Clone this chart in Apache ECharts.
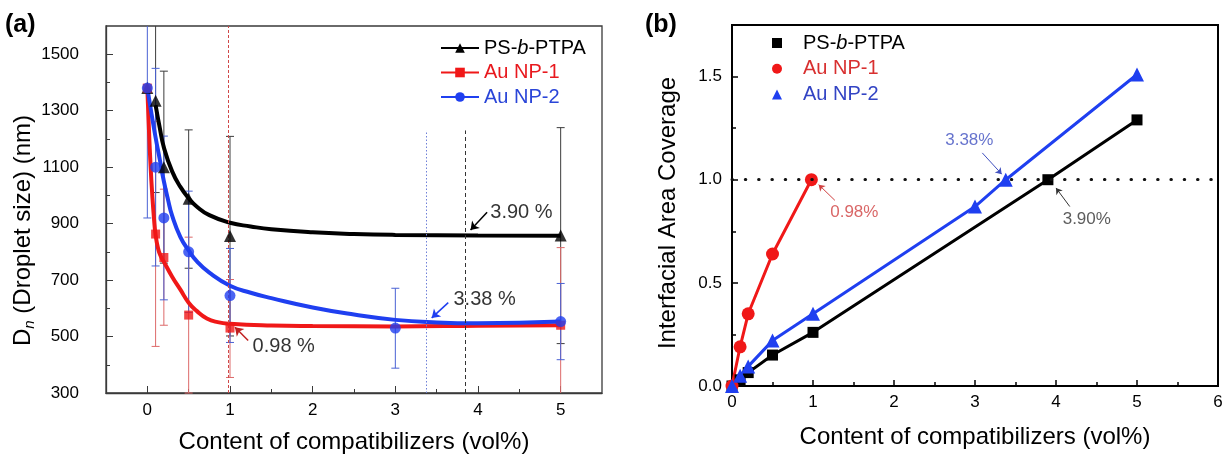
<!DOCTYPE html>
<html><head><meta charset="utf-8">
<script src="https://cdn.jsdelivr.net/npm/echarts@6/dist/echarts.min.js"></script>
<style>html,body{margin:0;padding:0;background:#fff}#c{width:1226px;height:458px}</style>
</head><body><div id="c"></div>
<script>
// ---------- Panel (a): droplet size ----------
const aXTicks = [0, 1, 2, 3, 4, 5];
const aXMinor = [0.5, 1.5, 2.5, 3.5, 4.5];
const aYTicks = [300, 500, 700, 900, 1100, 1300, 1500];
const aYMinor = [400, 600, 800, 1000, 1200, 1400];

const psX  = [0, 0.1, 0.2, 0.5, 1, 5];
const psY  = [1380, 1335, 1100, 988, 856, 858];
const psLo = [null, 1010, 760, 742, 502, 475];
const psHi = [null, 1660, 1440, 1232, 1209, 1240];

const np1X  = [0, 0.1, 0.2, 0.5, 1, 5];
const np1Y  = [1380, 863, 780, 576, 530, 540];
const np1Lo = [null, 465, 540, 300, 355, 265];
const np1Hi = [null, 1262, 1022, 852, 702, 815];

const np2X  = [0, 0.1, 0.2, 0.5, 1, 3, 5];
const np2Y  = [1380, 1100, 920, 800, 645, 530, 553];
const np2Lo = [920, 750, 630, 585, 479, 388, 418];
const np2Hi = [1840, 1450, 1210, 1015, 812, 671, 688];

// fitted curves
const psFitX  = [0.1, 0.15, 0.2, 0.3, 0.4, 0.5, 0.6, 0.75, 1, 1.25, 1.5, 2, 2.5, 3, 4, 5];
const psFitY  = [1320, 1240, 1170, 1085, 1030, 990, 960, 930, 903, 890, 880, 869, 863, 860, 858, 857];
const np1FitX = [0, 0.02, 0.04, 0.06, 0.08, 0.1, 0.13, 0.16, 0.2, 0.3, 0.4, 0.5, 0.6, 0.72, 0.85, 1, 1.5, 2, 3, 4, 5];
const np1FitY = [1380, 1230, 1100, 1000, 920, 860, 812, 786, 765, 712, 666, 620, 590, 564, 551, 545, 539, 537, 536, 538, 540];
const np2FitX = [0, 0.05, 0.1, 0.15, 0.2, 0.25, 0.3, 0.4, 0.5, 0.6, 0.75, 1, 1.25, 1.5, 2, 2.5, 3, 3.5, 4, 5];
const np2FitY = [1380, 1290, 1205, 1128, 1050, 985, 928, 852, 805, 766, 726, 680, 655, 636, 603, 578, 559, 550, 547, 553];

// vertical reference lines: x, top value
const aRefX   = [0.98, 3.38, 3.85];
const aRefTop = [1600, 1230, 1230];

// annotations
const aNotes    = ['0.98 %', '3.38 %', '3.90 %'];
const aNoteX    = [1.65, 4.08, 4.525];
const aNoteY    = [463, 633, 939];
const aArrFromX = [1.22, 3.64, 4.11];
const aArrFromY = [486, 620, 940];
const aArrToX   = [1.06, 3.44, 3.91];
const aArrToY   = [533, 566, 877];

// ---------- Panel (b): interfacial area coverage ----------
const bYTicks = [0, 0.5, 1.0, 1.5];
const bYMinor = [0.25, 0.75, 1.25];
const bPsX  = [0, 0.1, 0.2, 0.5, 1, 3.9, 5];
const bPsY  = [0, 0.03, 0.065, 0.15, 0.26, 1.0, 1.29];
const bNp1X = [0, 0.1, 0.2, 0.5, 0.98];
const bNp1Y = [0, 0.19, 0.35, 0.64, 1.0];
const bNp2X = [0, 0.1, 0.2, 0.5, 1, 3, 3.38, 5];
const bNp2Y = [0, 0.05, 0.095, 0.22, 0.35, 0.87, 1.0, 1.51];

const bNotes    = ['0.98%', '3.38%', '3.90%'];
const bNoteX    = [1.51, 2.93, 4.38];
const bNoteY    = [0.84, 1.19, 0.806];
const bArrFromX = [1.27, 3.09, 4.17];
const bArrFromY = [0.90, 1.13, 0.87];
const bArrToX   = [1.07, 3.33, 4.0];
const bArrToY   = [0.976, 1.027, 0.96];

// ---------- helpers ----------
const FONT = '"Liberation Sans", Arial, Helvetica, sans-serif';
const BLACK = '#000000', RED = '#f01818', BLUE = '#1f3ff0';
const zip = (xs, ys) => xs.map((x, i) => [x, ys[i]]);
const errData = (xs, lo, hi) => xs.map((x, i) => [x, lo[i], hi[i]]).filter(d => d[1] != null);
const A_YMIN = 300, A_YMAX = 1600;

function errSeries(data, color) {
  return {
    type: 'custom', xAxisIndex: 0, yAxisIndex: 0, silent: true, z: 3,
    data: data, encode: { x: 0, y: [1, 2] },
    renderItem: function (params, api) {
      const x = api.value(0), lo = api.value(1), hi = api.value(2);
      const l = Math.max(lo, A_YMIN), h = Math.min(hi, A_YMAX);
      const p1 = api.coord([x, l]), p2 = api.coord([x, h]);
      const st = { stroke: color, lineWidth: 1 };
      const ch = [{ type: 'line', shape: { x1: p1[0], y1: p1[1], x2: p2[0], y2: p2[1] }, style: st }];
      const cw = 4;
      if (lo >= A_YMIN) ch.push({ type: 'line', shape: { x1: p1[0] - cw, y1: p1[1], x2: p1[0] + cw, y2: p1[1] }, style: st });
      if (hi <= A_YMAX) ch.push({ type: 'line', shape: { x1: p2[0] - cw, y1: p2[1], x2: p2[0] + cw, y2: p2[1] }, style: st });
      return { type: 'group', children: ch };
    }
  };
}

function arrowLines(fx, fy, tx, ty, colors) {
  return fx.map((x, i) => [
    { coord: [x, fy[i]], lineStyle: { color: colors[i] } },
    { coord: [tx[i], ty[i]] }
  ]);
}

const refColors = ['#d04848', '#6f80d8', '#333333'];
const refTypes = [[3, 2], [1.5, 2], [4, 3]];

const legendRich = {
  sp: { width: 16, fontSize: 20, fontFamily: FONT },
  n: { fontSize: 20, color: '#000', fontFamily: FONT },
  i: { fontSize: 20, color: '#000', fontStyle: 'italic', fontFamily: FONT },
  r: { fontSize: 20, color: '#e8191e', fontFamily: FONT },
  b: { fontSize: 20, color: '#2a45d8', fontFamily: FONT },
  r2: { fontSize: 20, color: '#d83030', fontFamily: FONT },
  b2: { fontSize: 20, color: '#3344c4', fontFamily: FONT }
};

const option = {
  animation: false,
  backgroundColor: '#ffffff',
  textStyle: { fontFamily: FONT },
  grid: [
    { left: 106, top: 26, width: 496, height: 367, show: true, borderColor: '#3a3a3a', borderWidth: 1.3, backgroundColor: 'transparent', outerBoundsMode: 'none', containLabel: false },
    { left: 732, top: 25, width: 486, height: 361, show: true, borderColor: '#000', borderWidth: 2, backgroundColor: 'transparent', outerBoundsMode: 'none', containLabel: false }
  ],
  xAxis: [
    { gridIndex: 0, type: 'value', min: -0.5, max: 5.5, position: 'bottom',
      name: 'Content of compatibilizers (vol%)', nameLocation: 'middle', nameGap: 37,
      nameTextStyle: { fontSize: 24, color: '#000', fontFamily: FONT },
      axisLine: { show: true, onZero: false, lineStyle: { color: '#3a3a3a', width: 1.3 } },
      axisTick: { show: true, inside: true, length: 7, customValues: aXTicks, lineStyle: { color: '#3a3a3a' } },
      axisLabel: { show: true, customValues: aXTicks, margin: 9, fontSize: 17, color: '#000', fontFamily: FONT,
        formatter: v => String(v) },
      splitLine: { show: false } },
    { gridIndex: 0, type: 'value', min: -0.5, max: 5.5, position: 'bottom',
      axisLine: { show: false, onZero: false }, axisLabel: { show: false }, splitLine: { show: false },
      axisTick: { show: true, inside: true, length: 4, customValues: aXMinor, lineStyle: { color: '#3a3a3a' } } },
    { gridIndex: 1, type: 'value', min: 0, max: 6, interval: 1, position: 'bottom',
      name: 'Content of compatibilizers (vol%)', nameLocation: 'middle', nameGap: 39,
      nameTextStyle: { fontSize: 24, color: '#000', fontFamily: FONT },
      axisLine: { show: true, onZero: false, lineStyle: { color: '#000', width: 2 } },
      axisTick: { show: true, inside: true, length: 6, lineStyle: { color: '#000', width: 1.5 } },
      minorTick: { show: true, splitNumber: 2, length: 4, lineStyle: { color: '#000', width: 1.5 } },
      axisLabel: { show: true, margin: 8, fontSize: 17, color: '#000', fontFamily: FONT },
      splitLine: { show: false }, minorSplitLine: { show: false } }
  ],
  yAxis: [
    { gridIndex: 0, type: 'value', min: 300, max: 1600, position: 'left',
      name: '{d|D}{s|n}{d| (Droplet size) (nm)}', nameLocation: 'middle', nameGap: 60,
      nameTextStyle: { color: '#000', fontFamily: FONT, padding: [0, 42, 0, 0],
        rich: { d: { fontSize: 24, lineHeight: 28, color: '#000', fontFamily: FONT },
                s: { fontSize: 15, lineHeight: 12, fontStyle: 'italic', verticalAlign: 'bottom', color: '#000', fontFamily: FONT } } },
      axisLine: { show: true, onZero: false, lineStyle: { color: '#3a3a3a', width: 1.3 } },
      axisTick: { show: true, inside: true, length: 7, customValues: aYTicks, lineStyle: { color: '#3a3a3a' } },
      axisLabel: { show: true, customValues: aYTicks, margin: 27, fontSize: 17, color: '#000', fontFamily: FONT,
        formatter: v => String(v) },
      splitLine: { show: false } },
    { gridIndex: 0, type: 'value', min: 300, max: 1600, position: 'left',
      axisLine: { show: false, onZero: false }, axisLabel: { show: false }, splitLine: { show: false },
      axisTick: { show: true, inside: true, length: 4, customValues: aYMinor, lineStyle: { color: '#3a3a3a' } } },
    { gridIndex: 1, type: 'value', min: 0, max: 1.75, position: 'left',
      name: 'Interfacial Area Coverage', nameLocation: 'middle', nameGap: 52,
      nameTextStyle: { fontSize: 24, color: '#000', fontFamily: FONT, padding: [0, 15, 0, 0] },
      axisLine: { show: true, onZero: false, lineStyle: { color: '#000', width: 2 } },
      axisTick: { show: true, inside: true, length: 6, customValues: bYTicks, lineStyle: { color: '#000', width: 1.5 } },
      axisLabel: { show: true, customValues: bYTicks, margin: 10, fontSize: 17, color: '#000', fontFamily: FONT,
        formatter: v => Number(v).toFixed(1) },
      splitLine: { show: false } },
    { gridIndex: 1, type: 'value', min: 0, max: 1.75, position: 'left',
      axisLine: { show: false, onZero: false }, axisLabel: { show: false }, splitLine: { show: false },
      axisTick: { show: true, inside: true, length: 4, customValues: bYMinor, lineStyle: { color: '#000', width: 1.5 } } }
  ],
  legend: [
    { orient: 'vertical', left: 435, top: 33, itemWidth: 38, itemHeight: 12, itemGap: 4.5,
      selectedMode: false,
      data: ['PS-b-PTPA', 'Au NP-1', 'Au NP-2'],
      textStyle: { fontSize: 20, fontFamily: FONT, rich: legendRich },
      formatter: n => n === 'PS-b-PTPA' ? '{n|PS-}{i|b}{n|-PTPA}' : (n === 'Au NP-1' ? '{r|Au NP-1}' : '{b|Au NP-2}') },
    { orient: 'vertical', left: 767, top: 28, itemWidth: 10, itemHeight: 10, itemGap: 5.8,
      selectedMode: false,
      data: [
        { name: 'PS-b-PTPA (b)', icon: 'rect' },
        { name: 'Au NP-1 (b)', icon: 'circle' },
        { name: 'Au NP-2 (b)', icon: 'triangle' }
      ],
      textStyle: { fontSize: 20, fontFamily: FONT, rich: legendRich },
      formatter: n => n === 'PS-b-PTPA (b)' ? '{sp| }{n|PS-}{i|b}{n|-PTPA}'
        : (n === 'Au NP-1 (b)' ? '{sp| }{r2|Au NP-1}' : '{sp| }{b2|Au NP-2}') }
  ],
  graphic: [
    { type: 'text', left: 5, top: 13, style: { text: '(a)', font: 'bold 25px ' + FONT, fill: '#000' } },
    { type: 'text', left: 645, top: 13, style: { text: '(b)', font: 'bold 25px ' + FONT, fill: '#000' } }
  ],
  series: [
    // reference lines (a)
    { type: 'line', name: 'ref', xAxisIndex: 0, yAxisIndex: 0, data: [], silent: true, z: 1,
      markLine: { silent: true, symbol: ['none', 'none'], label: { show: false }, animation: false,
        data: aRefX.map((x, i) => [
          { coord: [x, A_YMIN], lineStyle: { color: refColors[i], type: refTypes[i], width: 1 } },
          { coord: [x, aRefTop[i]] }
        ]) } },
    // error bars (a)
    errSeries(errData(psX, psLo, psHi), '#3c3c3c'),
    errSeries(errData(np1X, np1Lo, np1Hi), '#dd6a6a'),
    errSeries(errData(np2X, np2Lo, np2Hi), '#4a62d4'),
    // fitted curves (a) — these carry the legend
    { type: 'line', name: 'PS-b-PTPA', xAxisIndex: 0, yAxisIndex: 0, data: zip(psFitX, psFitY),
      smooth: 0.5, showSymbol: false, symbol: 'triangle', symbolSize: 12,
      lineStyle: { color: BLACK, width: 4 }, itemStyle: { color: BLACK }, z: 4, silent: true },
    { type: 'line', name: 'Au NP-1', xAxisIndex: 0, yAxisIndex: 0, data: zip(np1FitX, np1FitY),
      smooth: 0.5, showSymbol: false, symbol: 'rect', symbolSize: 9,
      lineStyle: { color: RED, width: 4 }, itemStyle: { color: RED }, z: 4, silent: true },
    { type: 'line', name: 'Au NP-2', xAxisIndex: 0, yAxisIndex: 0, data: zip(np2FitX, np2FitY),
      smooth: 0.5, showSymbol: false, symbol: 'circle', symbolSize: 11,
      lineStyle: { color: BLUE, width: 4 }, itemStyle: { color: BLUE }, z: 4, silent: true },
    // measured points (a)
    { type: 'scatter', name: 'ps-pts', xAxisIndex: 0, yAxisIndex: 0, data: zip(psX, psY),
      symbol: 'triangle', symbolSize: 12, itemStyle: { color: BLACK }, z: 5, silent: true },
    { type: 'scatter', name: 'np1-pts', xAxisIndex: 0, yAxisIndex: 0, data: zip(np1X, np1Y),
      symbol: 'rect', symbolSize: 9, itemStyle: { color: RED }, z: 5, silent: true },
    { type: 'scatter', name: 'np2-pts', xAxisIndex: 0, yAxisIndex: 0, data: zip(np2X, np2Y),
      symbol: 'circle', symbolSize: 11, itemStyle: { color: BLUE }, z: 6, silent: true },
    // annotations (a)
    { type: 'scatter', name: 'a-notes', xAxisIndex: 0, yAxisIndex: 0, silent: true, z: 7,
      symbolSize: 0,
      data: aNotes.map((t, i) => ({ name: t, value: [aNoteX[i], aNoteY[i]] })),
      label: { show: true, position: 'inside', formatter: '{b}', fontSize: 20, color: '#000', fontFamily: FONT },
      markLine: { silent: true, symbol: ['none', 'arrow'], symbolSize: 8, label: { show: false },
        lineStyle: { type: 'solid', width: 1.5 },
        data: arrowLines(aArrFromX, aArrFromY, aArrToX, aArrToY, ['#c02020', BLUE, BLACK]) } },

    // panel (b)
    { type: 'line', name: 'refb', xAxisIndex: 2, yAxisIndex: 2, data: [], silent: true, z: 1,
      markLine: { silent: true, symbol: ['none', 'none'], label: { show: false },
        lineStyle: { color: '#111', type: [0.5, 12.8], width: 3, cap: 'round' },
        data: [{ yAxis: 1.0 }] } },
    { type: 'line', name: 'PS-b-PTPA (b)', xAxisIndex: 2, yAxisIndex: 2, data: zip(bPsX, bPsY),
      symbol: 'rect', symbolSize: 11, showSymbol: true, lineStyle: { color: BLACK, width: 3 },
      itemStyle: { color: BLACK }, z: 4, silent: true },
    { type: 'line', name: 'Au NP-1 (b)', xAxisIndex: 2, yAxisIndex: 2, data: zip(bNp1X, bNp1Y),
      symbol: 'circle', symbolSize: 13, showSymbol: true, lineStyle: { color: RED, width: 3 },
      itemStyle: { color: RED }, z: 4, silent: true },
    { type: 'line', name: 'Au NP-2 (b)', xAxisIndex: 2, yAxisIndex: 2, data: zip(bNp2X, bNp2Y),
      symbol: 'triangle', symbolSize: 14, showSymbol: true, lineStyle: { color: BLUE, width: 3 },
      itemStyle: { color: BLUE }, z: 4, silent: true },
    { type: 'scatter', name: 'b-notes', xAxisIndex: 2, yAxisIndex: 2, silent: true, z: 7,
      symbolSize: 0,
      data: bNotes.map((t, i) => ({ name: t, value: [bNoteX[i], bNoteY[i]],
        label: { color: ['#d04040', '#4050c0', '#333333'][i] } })),
      label: { show: true, position: 'inside', formatter: '{b}', fontSize: 17, fontFamily: FONT },
      markLine: { silent: true, symbol: ['none', 'arrow'], symbolSize: 6, label: { show: false },
        lineStyle: { type: 'solid', width: 1 },
        data: arrowLines(bArrFromX, bArrFromY, bArrToX, bArrToY, ['#d04040', '#4050c0', '#333333']) } }
  ]
};

const chart = echarts.init(document.getElementById('c'), null, { renderer: 'canvas' });
chart.setOption(option);
</script>
</body></html>
